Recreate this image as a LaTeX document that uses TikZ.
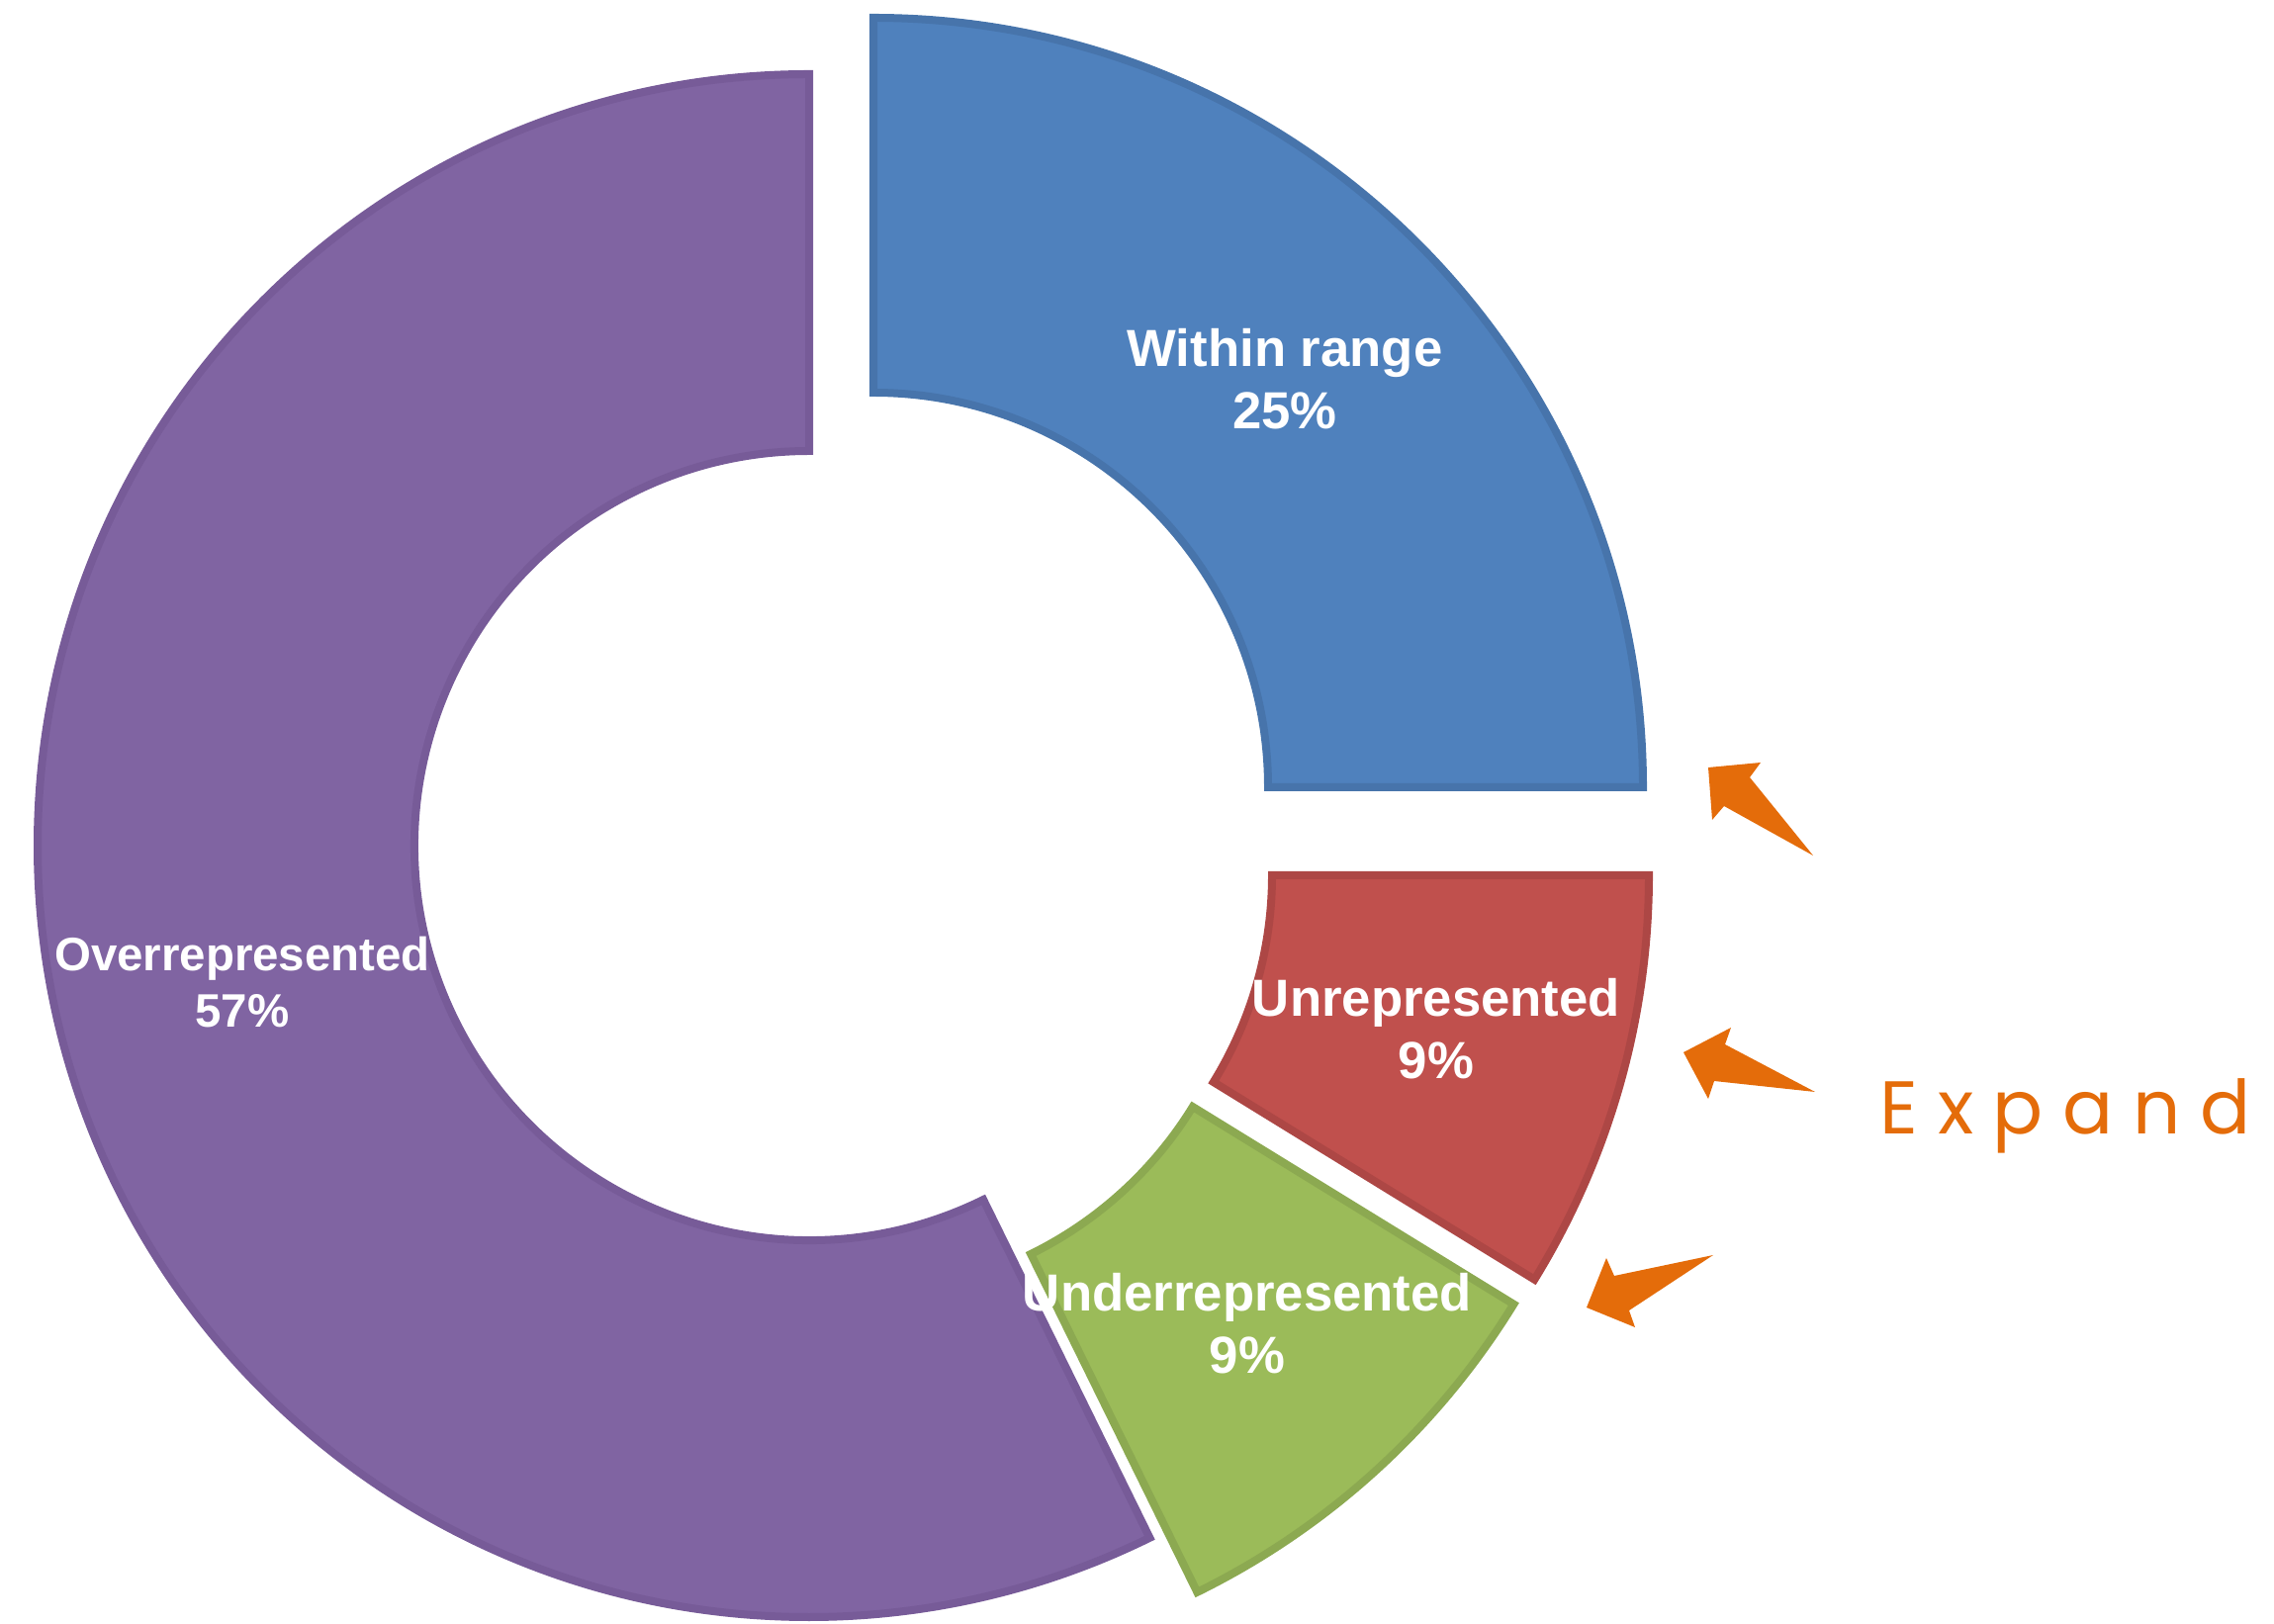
\documentclass[tikz,border=0pt]{standalone}
\usepackage{fontspec}
\setmainfont{Liberation Sans}
\newfontfamily\expandfont{Poppins}[LetterSpace=26]
\definecolor{purp}{HTML}{8064A2}
\definecolor{purpline}{HTML}{775B98}
\definecolor{blu}{HTML}{4F81BD}
\definecolor{bluline}{HTML}{4774AB}
\definecolor{rd}{HTML}{C0504D}
\definecolor{rdline}{HTML}{AD4745}
\definecolor{grn}{HTML}{9BBB59}
\definecolor{grnline}{HTML}{8CA951}
\definecolor{orng}{HTML}{E46C0A}

\begin{document}
\begin{tikzpicture}[x=0.1mm, y=0.1mm, slice/.style={line width=0.8mm, line join=miter}, pct node/.style={text=white, align=center, inner sep=0pt, font=\fontsize{15}{18}\selectfont\bfseries}, pointer/.style={fill=orng}]

                \useasboundingbox (0,0) rectangle (2299,1641);

                % ring pieces
                \filldraw[slice, fill=purp, draw=purpline, shift={(818,786)}] (90:780) arc[start angle=90, end angle=296.2, radius=780] -- (296.2:399) arc[start angle=296.2, end angle=90, radius=399] -- cycle;
                \filldraw[slice, fill=blu, draw=bluline, shift={(883,845)}] (0:778) arc[start angle=0, end angle=90, radius=778] -- (90:399) arc[start angle=90, end angle=0, radius=399] -- cycle;
                \filldraw[slice, fill=rd, draw=rdline, shift={(887,756)}] (-31.6:780) arc[start angle=-31.6, end angle=0, radius=780] -- (0:399) arc[start angle=0, end angle=-31.6, radius=399] -- cycle;
                \filldraw[slice, fill=grn, draw=grnline, shift={(866,731)}] (-63.8:780) arc[start angle=-63.8, end angle=-31.6, radius=780] -- (-31.6:399) arc[start angle=-31.6, end angle=-63.8, radius=399] -- cycle;

                \node[pct node] at (1299, 1258) (within) {Within range\\25\%};
                \node[pct node, font=\fontsize{13.5}{16.2}\selectfont\bfseries] at (245, 648) (over) {Overrepresented\\57\%};
                \node[pct node] at (1452, 601) (unrep) {Unrepresented\\9\%};
                \node[pct node] at (1261, 303) (under) {Underrepresented\\9\%};

                % arrows
                \fill[pointer] (1727,865) -- (1780,870) -- (1769,855) -- (1833,776) -- (1743,826) -- (1731,812) -- cycle;
                \fill[pointer] (1702,577) -- (1750,602) -- (1744,585) -- (1835,537) -- (1733,548) -- (1727,530) -- cycle;
                \fill[pointer] (1604,319) -- (1624,369) -- (1632,351) -- (1732,372) -- (1647,316) -- (1653,299) -- cycle;

                \node[anchor=base west, inner sep=0pt, text=orng, font=\expandfont\fontsize{21.5}{24}\selectfont] at (1900, 494) (expand) {Expand};
            \end{tikzpicture}
\end{document}
